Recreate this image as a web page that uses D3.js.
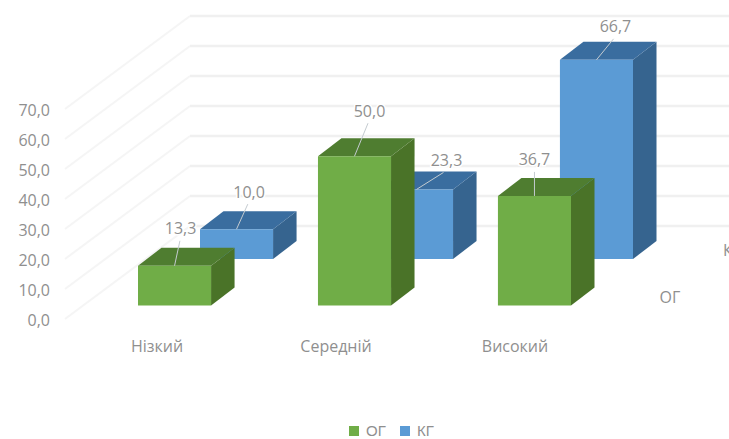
<!DOCTYPE html>
<html lang="uk">
<head>
<meta charset="utf-8">
<script src="https://cdn.jsdelivr.net/npm/d3@7"></script>
<style>
  html, body { margin: 0; padding: 0; background: #fff; }
  svg { display: block; font-family: "Open Sans", sans-serif; }
  text { fill: #8f8f8f; font-size: 16px; }
  .legend text { font-family: "Liberation Sans", sans-serif; font-size: 15px; }
</style>
</head>
<body>
<svg id="chart" width="729" height="439"></svg>
<script>
const categories = ["Нізкий", "Середній", "Високий"];
const seriesNames = ["ОГ", "КГ"];
const ogValues = [13.3, 50.0, 36.7];
const kgValues = [10.0, 23.3, 66.7];
const axisTicks = [0, 10, 20, 30, 40, 50, 60, 70];
const seriesColours = ["#70ad47", "#5b9bd5"];
const topColours = ["#4f7d30", "#3a6d9f"];
const sideColours = ["#4a7328", "#36648f"];

const comma = v => d3.format(".1f")(v).replace(".", ",");
const svg = d3.select("#chart");

// Oblique projection: each series sits further back, each box has its own depth.
const baseY = 305.5;
const depth = { dx: 23.5, dy: -18 };
const barHeight = d3.scaleLinear().domain([0, 70]).range([0, 209]);
const catX = d3.scaleBand().domain(categories).range([138, 571]).paddingInner(0.594).paddingOuter(0);
const seriesDX = d3.scalePoint().domain(seriesNames).range([0, 62]);
const seriesDY = d3.scalePoint().domain(seriesNames).range([0, -46.5]);

// Gridlines run along the side wall, then across the back wall.
const wallY = d3.scaleLinear().domain([0, 70]).range([226, 16]);
const gridRise = 93;
const grid = svg.append("g").attr("fill", "none");
grid.selectAll("path.side").data(axisTicks).join("path").attr("class", "side")
  .attr("stroke", "#f5f5f5").attr("stroke-width", 2)
  .attr("d", t => d3.line()([[65, wallY(t) + gridRise], [190, wallY(t)]]));
grid.selectAll("path.back").data(axisTicks).join("path").attr("class", "back")
  .attr("stroke", "#f0f0f0").attr("stroke-width", 2.5)
  .attr("d", t => d3.line()([[190, wallY(t)], [729, wallY(t)]]));

// Value axis labels
svg.append("g").selectAll("text").data(axisTicks).join("text")
  .attr("x", 50).attr("y", t => wallY(t) + gridRise + 7).attr("text-anchor", "end")
  .text(comma);

// Category labels
const catLabelX = d3.scalePoint().domain(categories).range([157, 515]);
svg.append("g").selectAll("text").data(categories).join("text")
  .attr("x", c => catLabelX(c)).attr("y", 351.5).attr("text-anchor", "middle")
  .text(c => c);

// Series labels on the depth axis; the far one runs off the right edge
svg.append("g").selectAll("text").data(seriesNames).join("text")
  .attr("x", s => 670 + seriesDX(s)).attr("y", s => 302.5 + seriesDY(s)).attr("text-anchor", "middle")
  .text(s => s);

const labelNudges = {
  "ОГ": [[6, -37], [15, -45], [0, -36]],
  "КГ": [[12.5, -37], [30, -29], [19, -33]]
};
const seriesData = [ogValues, kgValues];

// Back series first so the front row overlaps it.
const poly = pts => d3.line()(pts) + "Z";
[1, 0].forEach(si => {
  const name = seriesNames[si];
  const w = catX.bandwidth();
  const g = svg.append("g").attr("class", "series-" + si);
  const boxes = g.selectAll("g").data(categories.map((c, i) => ({ c, v: seriesData[si][i], i }))).join("g");
  const geom = d => {
    const x0 = catX(d.c) + seriesDX(name);
    const y1 = baseY + seriesDY(name);
    return { x0, x1: x0 + w, y1, y0: y1 - barHeight(d.v) };
  };
  boxes.append("path").attr("fill", sideColours[si]).attr("d", d => {
    const b = geom(d);
    return poly([[b.x1, b.y0], [b.x1 + depth.dx, b.y0 + depth.dy], [b.x1 + depth.dx, b.y1 + depth.dy], [b.x1, b.y1]]);
  });
  boxes.append("path").attr("fill", topColours[si]).attr("d", d => {
    const b = geom(d);
    return poly([[b.x0, b.y0], [b.x0 + depth.dx, b.y0 + depth.dy], [b.x1 + depth.dx, b.y0 + depth.dy], [b.x1, b.y0]]);
  });
  boxes.append("path").attr("fill", seriesColours[si]).attr("d", d => {
    const b = geom(d);
    return poly([[b.x0, b.y0], [b.x1, b.y0], [b.x1, b.y1], [b.x0, b.y1]]);
  });
  // Leader line and value label
  boxes.append("line").attr("stroke", "#c4cbd0").attr("stroke-width", 1)
    .attr("x1", d => geom(d).x0 + w / 2)
    .attr("y1", d => geom(d).y0)
    .attr("x2", d => geom(d).x0 + w / 2 + labelNudges[name][d.i][0] * 0.9)
    .attr("y2", d => geom(d).y0 + labelNudges[name][d.i][1] + 12);
  boxes.append("text")
    .attr("x", d => geom(d).x0 + w / 2 + labelNudges[name][d.i][0])
    .attr("y", d => geom(d).y0 + labelNudges[name][d.i][1] + 5.5)
    .attr("text-anchor", "middle")
    .attr("stroke", "#fff").attr("stroke-width", 3).attr("paint-order", "stroke")
    .text(d => comma(d.v));
});

// Legend
const legendX = d3.scalePoint().domain(seriesNames).range([349, 400]);
const legend = svg.append("g").attr("class", "legend").selectAll("g").data(seriesNames).join("g")
  .attr("transform", s => `translate(${legendX(s)},426)`);
legend.append("rect").attr("width", 10).attr("height", 10).attr("fill", (s, i) => seriesColours[i]);
legend.append("text").attr("x", 17).attr("y", 9.5).text(s => s);
</script>
</body>
</html>
